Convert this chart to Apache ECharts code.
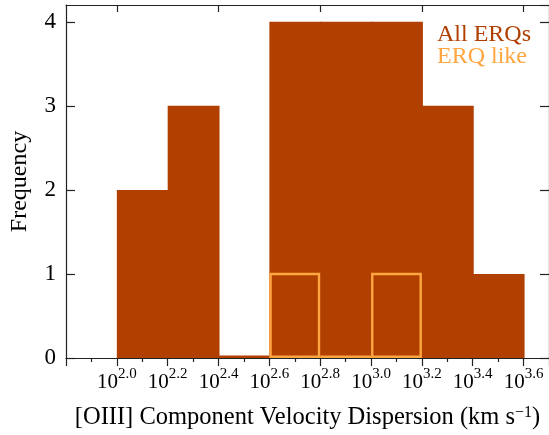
<!DOCTYPE html>
<html>
<head>
<meta charset="utf-8">
<script src="https://cdn.jsdelivr.net/npm/echarts@6/dist/echarts.min.js"></script>
<style>
html,body{margin:0;padding:0;background:#fff;}
#chart{width:549px;height:435px;}
</style>
</head>
<body>
<div id="chart"></div>
<script>
// log10 of velocity dispersion (km/s) bin edges
const binEdgesAll = [2.0, 2.2, 2.4, 2.6, 2.8, 3.0, 3.2, 3.4, 3.6];
const countsAll = [2, 3, 0, 4, 4, 4, 3, 1];
const binEdgesLike = [2.6, 2.8, 3.0, 3.2];
const countsLike = [1, 0, 1];
const xTickLabels = ['2.0', '2.2', '2.4', '2.6', '2.8', '3.0', '3.2', '3.4', '3.6'];
const topTickValues = [2.0, 2.4, 2.8, 3.2, 3.6];
const yTickLabels = ['0', '1', '2', '3', '4'];
const legendNames = ['All ERQs', 'ERQ like'];

const BROWN = '#B03F00';
const ORANGE = '#FFA640';
const AXIS = '#222';
const FONT = '"Liberation Serif", "DejaVu Serif", serif';

function binData(edges, counts) {
  return counts.map((c, i) => [edges[i], edges[i + 1], c]);
}

const chart = echarts.init(document.getElementById('chart'), null, {renderer: 'canvas'});

const option = {
  backgroundColor: '#fff',
  animation: false,
  grid: {left: 65, top: 5, width: 486, height: 354, containLabel: false},
  xAxis: [
    {
      type: 'value', position: 'bottom', min: 1.8, max: 3.7, interval: 0.2,
      axisLine: {show: true, onZero: false, lineStyle: {color: AXIS, width: 1.2}},
      axisTick: {show: true, inside: false, length: 8, lineStyle: {color: AXIS, width: 1.2}},
      minorTick: {show: true, splitNumber: 2, length: 4, lineStyle: {color: AXIS, width: 1.2}},
      splitLine: {show: false},
      axisLabel: {
        show: true, margin: 9, color: '#000', fontFamily: FONT,
        showMinLabel: false, showMaxLabel: false,
        formatter: function (v) {
          const idx = Math.round((v - 2.0) / 0.2);
          if (idx < 0 || idx >= xTickLabels.length) return '';
          return '{b|10}{s|' + xTickLabels[idx] + '}';
        },
        rich: {
          b: {fontSize: 21, fontFamily: FONT, color: '#000', lineHeight: 26, verticalAlign: 'bottom'},
          s: {fontSize: 15, fontFamily: FONT, color: '#000', lineHeight: 15, verticalAlign: 'top'}
        }
      },
      name: '[OIII] Component Velocity Dispersion (km s{s|−1})',
      nameLocation: 'middle', nameGap: 47,
      nameTextStyle: {
        fontSize: 24.5, fontFamily: FONT, color: '#000',
        rich: {s: {fontSize: 16, fontFamily: FONT, color: '#000', verticalAlign: 'top', lineHeight: 16}}
      }
    },
    {
      type: 'value', position: 'top', min: 1.8, max: 3.7, interval: 0.2,
      axisLine: {show: true, onZero: false, lineStyle: {color: AXIS, width: 1.2}},
      axisTick: {show: true, inside: true, length: 7, customValues: topTickValues, lineStyle: {color: AXIS, width: 1.2}},
      splitLine: {show: false},
      axisLabel: {show: false}
    }
  ],
  yAxis: [
    {
      type: 'value', position: 'left', min: 0, max: 4.2, interval: 1,
      axisLine: {show: true, onZero: false, lineStyle: {color: AXIS, width: 1.2}},
      axisTick: {show: true, inside: true, length: 9, lineStyle: {color: AXIS, width: 1.2}},
      splitLine: {show: false},
      axisLabel: {
        show: true, margin: 10, fontSize: 23, fontFamily: FONT, color: '#000',
        showMaxLabel: false,
        formatter: function (v) {
          const i = Math.round(v);
          return (Math.abs(v - i) < 1e-6 && i < yTickLabels.length) ? yTickLabels[i] : '';
        }
      },
      name: 'Frequency', nameLocation: 'middle', nameGap: 34, nameRotate: 90,
      nameTextStyle: {fontSize: 24, fontFamily: FONT, color: '#000'}
    },
    {
      type: 'value', position: 'right', min: 0, max: 4.2, interval: 1,
      axisLine: {show: true, onZero: false, lineStyle: {color: AXIS, width: 1.2}},
      axisTick: {show: true, inside: true, length: 9, lineStyle: {color: AXIS, width: 1.2}},
      splitLine: {show: false},
      axisLabel: {show: false}
    }
  ],
  series: [
    {
      name: legendNames[0], type: 'custom', xAxisIndex: 0, yAxisIndex: 0,
      data: binData(binEdgesAll, countsAll),
      encode: {x: [0, 1], y: 2},
      renderItem: function (params, api) {
        const p0 = api.coord([api.value(0), api.value(2)]);
        const p1 = api.coord([api.value(1), 0]);
        let h = p1[1] - p0[1];
        let y = p0[1];
        if (h < 2.5) { h = 2.5; y = p1[1] - 2.5; }
        return {
          type: 'rect',
          shape: {x: p0[0], y: y, width: p1[0] - p0[0] + 1, height: h},
          style: {fill: BROWN, stroke: null}
        };
      },
      z: 2
    },
    {
      name: legendNames[1], type: 'custom', xAxisIndex: 0, yAxisIndex: 0,
      data: binData(binEdgesLike, countsLike),
      encode: {x: [0, 1], y: 2},
      renderItem: function (params, api) {
        const p0 = api.coord([api.value(0), api.value(2)]);
        const p1 = api.coord([api.value(1), 0]);
        const h = p1[1] - p0[1];
        if (h < 2) {
          return {
            type: 'line',
            shape: {x1: p0[0], y1: p1[1] - 1.2, x2: p1[0], y2: p1[1] - 1.2},
            style: {stroke: ORANGE, lineWidth: 2.4}
          };
        }
        return {
          type: 'rect',
          shape: {x: p0[0] + 1.2, y: p0[1], width: p1[0] - p0[0] - 2.4, height: h - 1.2},
          style: {fill: null, stroke: ORANGE, lineWidth: 2.4}
        };
      },
      z: 3
    }
  ],
  graphic: [
    {type: 'text', left: 437, top: 23, style: {text: legendNames[0], fontSize: 24, fontFamily: FONT, fill: BROWN}},
    {type: 'text', left: 437, top: 45, style: {text: legendNames[1], fontSize: 24, fontFamily: FONT, fill: ORANGE}}
  ]
};

chart.setOption(option);
</script>
</body>
</html>
